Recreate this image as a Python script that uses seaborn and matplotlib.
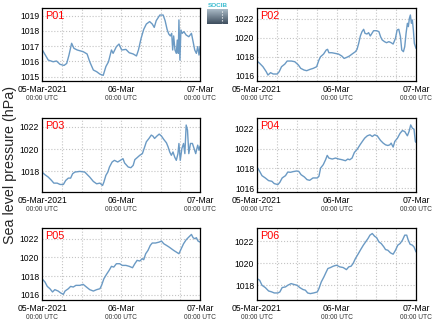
import numpy as np
import pandas as pd
import matplotlib
matplotlib.use("Agg")
import matplotlib.pyplot as plt
import matplotlib.dates as mdates
import matplotlib.transforms as mtransforms
import seaborn as sns

# ---------------- data ----------------
start = "2021-03-05 00:00"
xtick_dates = ["2021-03-05", "2021-03-06", "2021-03-07"]
xtick_labels = ["05-Mar-2021", "06-Mar", "07-Mar"]
xtick_sublabel = "00:00 UTC"
ylabel = "Sea level pressure (hPa)"
panel_names = ["P01", "P02", "P03", "P04", "P05", "P06"]

p01_hours = [0, 1.9, 3.4, 4.4, 5.5, 6.7, 7.5, 8.2, 9.0, 9.7, 10.7, 12.5, 13.7, 14.5, 15.6, 16.6,
             17.6, 18.6, 19.4, 20.2, 21.1, 21.6, 22.6, 23.4, 24.2, 25.5, 26.5, 27.7, 28.7, 29.3,
             30.1, 30.9, 31.7, 32.7, 33.5, 34.1, 34.7, 35.8, 36.8, 37.4, 38.0, 38.5, 39.0, 39.4,
             39.7, 40.0, 40.4, 40.8, 41.1, 41.4, 41.6, 41.9, 42.2, 42.6, 43.1, 43.8, 44.6, 45.4,
             45.9, 46.4, 46.9, 47.3, 47.7, 48.0]
p01_values = [1016.79, 1016.09, 1015.98, 1016.03, 1015.81, 1015.74, 1015.87, 1016.42, 1017.19, 1016.86,
              1016.75, 1016.64, 1016.49, 1015.98, 1015.44, 1015.33, 1015.17, 1015.09, 1015.66, 1015.98,
              1016.75, 1016.53, 1016.97, 1017.14, 1016.75, 1016.79, 1016.57, 1016.49, 1016.36, 1016.75,
              1017.51, 1018.10, 1018.45, 1018.61, 1018.45, 1018.23, 1018.67, 1019.04, 1019.04, 1018.67,
              1018.10, 1017.80, 1017.67, 1017.84, 1016.75, 1017.67, 1016.75, 1016.53, 1017.40, 1016.53,
              1018.72, 1016.09, 1018.06, 1017.84, 1017.95, 1017.73, 1017.62, 1017.84, 1017.30, 1016.75,
              1016.53, 1016.97, 1016.42, 1016.97]

p02_hours = [0, 0.8, 1.8, 2.8, 3.3, 4.1, 4.9, 6.1, 6.7, 7.4, 8.4, 9.1, 10.4, 11.4, 12.5, 13.2, 14.2,
             15.0, 16.0, 17.0, 18.0, 18.7, 19.2, 20.1, 20.9, 21.3, 21.7, 22.6, 23.6, 24.6, 25.6, 26.3,
             27.1, 27.9, 28.7, 29.7, 30.2, 30.7, 31.2, 31.7, 32.2, 32.6, 33.2, 33.7, 34.2, 34.7, 35.2,
             36.1, 36.8, 37.3, 37.8, 38.5, 39.1, 39.8, 40.5, 41.1, 41.8, 42.3, 42.8, 43.3, 43.7, 44.2,
             44.6, 45.0, 45.4, 45.7, 46.0, 46.3, 46.6, 46.9, 47.2, 47.5, 48.0]
p02_values = [1017.55, 1017.31, 1016.95, 1016.42, 1016.07, 1016.32, 1016.18, 1016.18, 1016.42, 1016.95,
              1017.23, 1017.55, 1017.55, 1017.48, 1017.13, 1016.78, 1016.60, 1016.53, 1016.67, 1016.78,
              1016.95, 1017.66, 1018.01, 1018.29, 1018.72, 1018.79, 1018.43, 1018.43, 1018.36, 1018.29,
              1018.08, 1017.83, 1017.94, 1018.08, 1018.29, 1018.54, 1018.79, 1019.42, 1020.20, 1020.66,
              1020.91, 1020.48, 1020.41, 1020.55, 1020.20, 1020.48, 1020.76, 1020.76, 1020.66, 1020.13,
              1019.78, 1019.60, 1019.49, 1019.60, 1019.49, 1019.35, 1019.95, 1020.84, 1020.91, 1020.13,
              1018.72, 1018.54, 1019.07, 1020.48, 1021.54, 1021.19, 1022.07, 1022.42, 1021.54, 1021.89,
              1020.84, 1019.42, 1018.89]

p03_hours = [0, 0.9, 1.9, 2.9, 3.6, 4.6, 5.5, 6.5, 7.2, 8.0, 8.7, 9.3, 10.0, 11.5, 13.0, 13.7, 14.5,
             15.6, 16.6, 17.6, 18.4, 18.8, 19.4, 20.0, 20.5, 21.3, 22.0, 23.0, 23.8, 24.6, 25.1, 26.2,
             27.0, 27.7, 28.2, 28.9, 29.7, 30.5, 31.2, 31.7, 32.5, 33.2, 33.7, 34.2, 34.9, 35.6, 36.3,
             37.0, 37.8, 38.3, 38.8, 39.3, 39.8, 40.3, 40.8, 41.3, 41.6, 42.0, 42.5, 43.0, 43.4, 43.8,
             44.2, 44.6, 45.1, 45.7, 46.2, 46.7, 47.3, 47.7, 48.0]
p03_values = [1017.94, 1017.70, 1017.49, 1017.19, 1016.95, 1016.95, 1016.83, 1016.83, 1017.19, 1017.40,
              1017.40, 1017.79, 1017.94, 1018.00, 1017.94, 1017.73, 1017.49, 1017.10, 1016.89, 1016.95,
              1016.74, 1017.04, 1017.64, 1017.94, 1018.39, 1018.84, 1018.99, 1018.84, 1018.99, 1019.14,
              1018.75, 1018.39, 1018.33, 1018.54, 1019.05, 1019.23, 1019.44, 1019.59, 1020.20, 1020.65,
              1020.95, 1021.25, 1021.16, 1020.95, 1021.16, 1021.34, 1021.16, 1020.86, 1020.56, 1020.20,
              1019.74, 1019.44, 1019.74, 1019.29, 1018.99, 1019.59, 1020.50, 1018.99, 1020.05, 1020.50,
              1019.59, 1022.15, 1021.70, 1019.59, 1020.50, 1020.50, 1020.05, 1019.59, 1020.35, 1019.89,
              1020.26]

p04_hours = [0, 0.8, 1.5, 2.5, 3.5, 4.5, 5.2, 6.3, 6.9, 7.6, 8.6, 9.3, 10.1, 10.9, 11.9, 12.6, 13.3,
             14.3, 15.1, 15.9, 16.9, 18.2, 18.7, 19.2, 20.0, 20.7, 21.2, 21.7, 22.7, 23.7, 24.7, 25.7,
             26.7, 27.4, 28.0, 28.7, 29.4, 30.3, 31.1, 31.8, 32.5, 33.3, 34.1, 34.8, 35.5, 36.3, 36.8,
             37.3, 38.1, 38.8, 39.5, 40.1, 40.5, 41.1, 41.6, 42.4, 43.2, 43.9, 44.6, 45.4, 45.9, 46.4,
             46.9, 47.4, 47.8, 48.0]
p04_values = [1018.14, 1017.71, 1017.27, 1017.04, 1016.77, 1016.70, 1016.47, 1016.37, 1016.60, 1017.04,
              1017.27, 1017.64, 1017.61, 1017.68, 1017.74, 1017.71, 1017.37, 1017.14, 1016.87, 1016.80,
              1017.04, 1017.04, 1017.21, 1018.04, 1018.38, 1018.88, 1019.32, 1019.05, 1018.95, 1019.05,
              1018.95, 1018.88, 1018.78, 1018.95, 1018.88, 1019.05, 1019.62, 1019.96, 1020.39, 1020.73,
              1021.06, 1021.30, 1021.40, 1021.23, 1021.40, 1021.30, 1021.06, 1020.83, 1020.56, 1020.39,
              1020.32, 1020.39, 1020.56, 1020.16, 1020.73, 1021.06, 1021.56, 1021.83, 1021.73, 1021.30,
              1021.73, 1022.40, 1022.07, 1021.97, 1020.73, 1020.63]

p05_hours = [0, 0.9, 1.6, 2.4, 3.2, 3.9, 4.9, 5.7, 6.5, 7.0, 8.0, 8.7, 9.5, 10.3, 11.5, 12.5, 13.5,
             14.5, 15.6, 16.6, 17.6, 18.1, 18.8, 19.6, 20.4, 21.1, 21.8, 22.6, 23.6, 24.4, 25.5, 26.5,
             27.5, 28.2, 28.9, 29.7, 30.5, 30.9, 31.5, 32.2, 32.9, 33.5, 34.5, 35.6, 36.3, 37.0, 37.8,
             38.6, 39.3, 40.0, 40.8, 41.6, 42.3, 43.0, 43.8, 44.6, 45.4, 45.9, 46.4, 46.9, 47.4, 48.0]
p05_values = [1017.71, 1017.36, 1016.89, 1016.64, 1016.29, 1016.54, 1016.39, 1016.18, 1016.04, 1016.39,
              1016.64, 1016.89, 1016.82, 1017.00, 1017.00, 1017.11, 1016.82, 1016.54, 1016.39, 1016.54,
              1016.64, 1017.00, 1017.71, 1018.18, 1018.61, 1019.04, 1018.96, 1019.32, 1019.32, 1019.14,
              1019.14, 1019.04, 1018.89, 1019.32, 1019.68, 1019.61, 1019.86, 1019.75, 1020.39, 1020.75,
              1021.29, 1021.54, 1021.54, 1021.64, 1021.75, 1021.46, 1021.29, 1021.11, 1020.93, 1020.75,
              1020.57, 1020.39, 1020.93, 1021.46, 1021.89, 1022.18, 1022.46, 1022.11, 1022.00, 1022.11,
              1021.75, 1021.64]

p06_hours = [0, 0.8, 1.5, 2.5, 3.5, 4.5, 5.2, 6.3, 6.9, 7.6, 8.6, 9.3, 10.3, 11.3, 12.1, 12.9, 13.9,
             14.6, 15.3, 16.1, 17.1, 18.2, 18.7, 19.4, 20.2, 20.9, 21.4, 22.2, 23.0, 24.0, 25.0, 26.0,
             27.0, 27.7, 28.4, 29.0, 29.7, 30.5, 31.3, 32.1, 32.8, 33.5, 34.1, 34.8, 35.5, 36.1, 36.8,
             37.5, 38.3, 38.8, 39.5, 40.3, 41.1, 41.8, 42.5, 43.2, 43.9, 44.6, 45.2, 45.6, 46.2, 46.9,
             47.4, 48.0]
p06_values = [1018.61, 1018.45, 1018.00, 1017.79, 1017.48, 1017.39, 1017.30, 1017.30, 1017.39, 1017.79,
              1017.85, 1018.00, 1018.15, 1018.06, 1018.00, 1017.79, 1017.61, 1017.55, 1017.30, 1017.24,
              1017.30, 1017.39, 1017.70, 1018.30, 1018.76, 1019.21, 1019.52, 1019.61, 1019.73, 1019.82,
              1019.67, 1019.61, 1019.42, 1019.67, 1019.73, 1019.97, 1020.42, 1020.82, 1021.24, 1021.64,
              1021.94, 1022.24, 1022.55, 1022.70, 1022.45, 1022.33, 1021.94, 1021.79, 1021.48, 1021.24,
              1021.18, 1020.94, 1020.82, 1021.18, 1021.64, 1021.79, 1022.09, 1022.55, 1022.55, 1022.15,
              1021.73, 1021.64, 1021.48, 1021.03]

y_limits = [(1014.72, 1019.5), (1015.44, 1023.16), (1016.2, 1022.78),
            (1015.67, 1023.1), (1015.43, 1023.15), (1016.66, 1023.2)]
y_ticks = [[1015, 1016, 1017, 1018, 1019], [1016, 1018, 1020, 1022], [1018, 1020, 1022],
           [1016, 1018, 1020, 1022], [1016, 1018, 1020, 1022], [1018, 1020, 1022]]

series_hours = [p01_hours, p02_hours, p03_hours, p04_hours, p05_hours, p06_hours]
series_values = [p01_values, p02_values, p03_values, p04_values, p05_values, p06_values]

# ---------------- style ----------------
sns.set_style("white")
plt.rcParams["font.family"] = ["Liberation Sans", "DejaVu Sans"]

line_color = "#6b9ac4"
W, H = 434, 327
fig = plt.figure(figsize=(W / 100, H / 100), dpi=100)

# panel rectangles in pixels (left, top, right, bottom)
rects = [(42, 8, 200, 81), (257, 8, 416, 81),
         (42, 118, 200, 191.5), (257, 118, 416, 191.5),
         (42, 228, 200, 300), (257, 228, 416, 300)]

t0 = pd.Timestamp(start)
xt = [pd.Timestamp(d) for d in xtick_dates]

for i, (l, t, r, b) in enumerate(rects):
    ax = fig.add_axes([l / W, 1 - b / H, (r - l) / W, (b - t) / H])
    df = pd.DataFrame({"time": t0 + pd.to_timedelta(series_hours[i], unit="h"),
                       "pressure": series_values[i]})
    sns.lineplot(data=df, x="time", y="pressure", ax=ax, color=line_color, linewidth=1.0)
    ax.set_xlim(xt[0], xt[-1])
    ax.set_ylim(*y_limits[i])
    ax.set_yticks(y_ticks[i])
    ax.set_yticklabels([str(v) for v in y_ticks[i]])
    ax.set_xticks(xt)
    ax.set_xticklabels(xtick_labels)
    ax.xaxis.set_minor_locator(mdates.HourLocator(byhour=[6, 12, 18]))
    ax.set_xlabel("")
    ax.set_ylabel("")
    ax.grid(True, which="both", axis="x", color="#c4c4c4", linestyle=":", linewidth=0.8)
    ax.grid(True, which="major", axis="y", color="#c4c4c4", linestyle=":", linewidth=0.8)
    ax.tick_params(axis="both", which="major", labelsize=6.2, length=2, direction="in",
                   pad=2, colors="black")
    ax.tick_params(axis="x", which="major", pad=3)
    ax.tick_params(axis="x", which="minor", length=2, direction="in")
    for s in ax.spines.values():
        s.set_color("black")
        s.set_linewidth(0.9)
    ax.text(0.018, 0.955, panel_names[i], transform=ax.transAxes, color="#ff0000",
            fontsize=7.8, ha="left", va="top")
    trans = mtransforms.offset_copy(
        mtransforms.blended_transform_factory(ax.transData, ax.transAxes),
        fig=fig, x=0, y=-12.8, units="points")
    for d in xt:
        ax.text(mdates.date2num(d), 0, xtick_sublabel, transform=trans, fontsize=4.8,
                ha="center", va="center", color="#333333")

fig.text(0.024, 0.495, ylabel, rotation=90, ha="center", va="center", fontsize=10.3)

# SOCIB logo
fig.text(217.5 / W, 1 - 5.5 / H, "SOCIB", color="#3bbcd0", fontsize=4.6,
         ha="center", va="center", fontweight="bold")
lax = fig.add_axes([207 / W, 1 - 24 / H, 21 / W, 15 / H])
grad = np.linspace(0, 1, 32).reshape(-1, 1)
cmap = matplotlib.colors.LinearSegmentedColormap.from_list("logo", ["#a9bac6", "#3e4e5e"])
lax.imshow(grad, aspect="auto", cmap=cmap, extent=[0, 1, 1, 0])
lax.plot([0.72, 0.72], [0.1, 0.9], color="white", linestyle=":", linewidth=0.8)
lax.set_xlim(0, 1)
lax.set_ylim(1, 0)
lax.axis("off")

fig.savefig("out.png", dpi=100)
